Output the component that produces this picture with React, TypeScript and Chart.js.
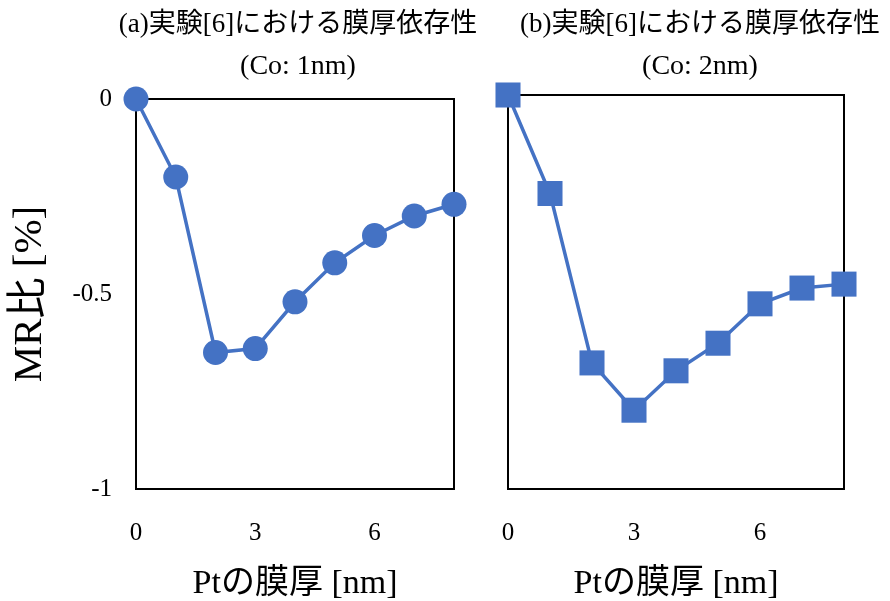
import React, { useEffect, useRef } from "react";
import { Chart, registerables } from "chart.js";

Chart.register(...registerables);

// Pt thickness [nm] and MR ratio [%] for the two Co thicknesses
const ptThickness = [0, 1, 2, 3, 4, 5, 6, 7, 8];
const mrCo1nm = [0, -0.2, -0.65, -0.64, -0.52, -0.42, -0.35, -0.3, -0.27];
const mrCo2nm = [0, -0.25, -0.68, -0.8, -0.7, -0.63, -0.53, -0.49, -0.48];

const xTickValues = [0, 3, 6];
const yTickValues = [0, -0.5, -1];

const titleA = ["(a)実験[6]における膜厚依存性", "(Co: 1nm)"];
const titleB = ["(b)実験[6]における膜厚依存性", "(Co: 2nm)"];
const xAxisTitle = "Ptの膜厚 [nm]";
const yAxisTitle = "MR比 [%]";

const SERIF = "'Liberation Serif', 'Noto Sans CJK JP', serif";
const BLUE = "#4472C4";
const CANVAS_H = 601;

// Draws the black plot frame under the series and the two-line heading on top.
const frameAndHeading = {
  id: "frameAndHeading",
  beforeDatasetsDraw(chart: any) {
    const { ctx, chartArea: a } = chart;
    ctx.save();
    ctx.strokeStyle = "#000";
    ctx.lineWidth = 2;
    ctx.strokeRect(a.left, a.top, a.right - a.left, a.bottom - a.top);
    ctx.restore();
  },
  afterDraw(chart: any, _args: any, opts: any) {
    const { ctx } = chart;
    ctx.save();
    ctx.fillStyle = "#000";
    ctx.textAlign = "center";
    ctx.textBaseline = "middle";
    (opts.lines || []).forEach((t: string, i: number) => {
      ctx.font = `${opts.sizes[i]}px ${SERIF}`;
      ctx.fillText(t, opts.x, opts.y[i]);
    });
    ctx.restore();
  },
};

type PanelOpts = {
  values: number[];
  pointStyle: "circle" | "rect";
  pointRadius: number;
  heading: string[];
  headingX: number;
  padding: { left: number; right: number; top: number; bottom: number };
  showY: boolean;
};

function makeConfig(p: PanelOpts): any {
  return {
    type: "line",
    data: {
      datasets: [
        {
          data: ptThickness.map((x, i) => ({ x, y: p.values[i] })),
          borderColor: BLUE,
          borderWidth: 3.5,
          backgroundColor: BLUE,
          pointStyle: p.pointStyle,
          pointRadius: p.pointRadius,
          pointHoverRadius: p.pointRadius,
          pointBackgroundColor: BLUE,
          pointBorderWidth: 0,
          tension: 0,
          clip: false,
        },
      ],
    },
    options: {
      animation: false,
      responsive: false,
      devicePixelRatio: 1,
      layout: { padding: p.padding },
      events: [],
      plugins: {
        legend: { display: false },
        tooltip: { enabled: false },
        frameAndHeading: { lines: p.heading, x: p.headingX, y: [25, 67], sizes: [27, 28] },
      },
      scales: {
        x: {
          type: "linear",
          min: 0,
          max: 8,
          afterBuildTicks: (s: any) => {
            s.ticks = xTickValues.map((v) => ({ value: v }));
          },
          afterFit: (s: any) => {
            s.height = 112;
            // the layout padding already leaves room for the edge labels
            s.paddingLeft = 0;
            s.paddingRight = 0;
          },
          ticks: {
            padding: 29,
            color: "#000",
            font: { family: SERIF, size: 25 },
            callback: (v: any) => String(v),
          },
          grid: { display: false, drawTicks: false },
          border: { display: false },
          title: {
            display: true,
            text: xAxisTitle,
            color: "#000",
            font: { family: SERIF, size: 34, lineHeight: 1 },
            padding: { top: 0, bottom: 0 },
          },
        },
        y: {
          type: "linear",
          display: p.showY,
          min: -1,
          max: 0,
          afterBuildTicks: (s: any) => {
            s.ticks = yTickValues.map((v) => ({ value: v }));
          },
          afterFit: (s: any) => {
            if (p.showY) s.width = 136;
          },
          ticks: {
            padding: 24,
            color: "#000",
            font: { family: SERIF, size: 25 },
            callback: (v: any) => String(v),
          },
          grid: { display: false, drawTicks: false },
          border: { display: false },
          title: {
            display: true,
            text: yAxisTitle,
            color: "#000",
            font: { family: SERIF, size: 41, lineHeight: 1.2 },
            padding: { top: 6, bottom: 0 },
          },
        },
      },
    },
    plugins: [frameAndHeading],
  };
}

function Panel({ left, width, opts }: { left: number; width: number; opts: PanelOpts }) {
  const ref = useRef<HTMLCanvasElement>(null);
  useEffect(() => {
    const chart = new Chart(ref.current as HTMLCanvasElement, makeConfig(opts));
    return () => chart.destroy();
  }, []);
  return (
    <canvas
      ref={ref}
      width={width}
      height={CANVAS_H}
      style={{ position: "absolute", left, top: 0, width, height: CANVAS_H }}
    />
  );
}

export default function App() {
  return (
    <div
      style={{
        position: "fixed",
        left: 0,
        top: 0,
        width: 890,
        height: CANVAS_H,
        background: "#fff",
        overflow: "hidden",
      }}
    >
      <Panel
        left={0}
        width={480}
        opts={{
          values: mrCo1nm,
          pointStyle: "circle",
          pointRadius: 12.5,
          heading: titleA,
          headingX: 298,
          padding: { left: 0, right: 26, top: 99, bottom: 0 },
          showY: true,
        }}
      />
      <Panel
        left={480}
        width={410}
        opts={{
          values: mrCo2nm,
          pointStyle: "rect",
          pointRadius: 17.7,
          heading: titleB,
          headingX: 220,
          padding: { left: 28, right: 46, top: 95, bottom: 0 },
          showY: false,
        }}
      />
    </div>
  );
}
